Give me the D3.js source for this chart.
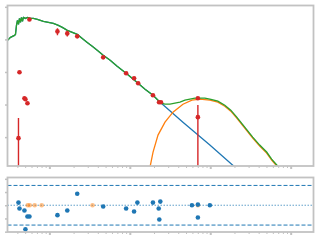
<!DOCTYPE html>
<html>
<head>
<meta charset="utf-8">
<script src="https://cdn.jsdelivr.net/npm/d3@7"></script>
<style>
  html, body { margin: 0; padding: 0; background: #fff; }
  svg { display: block; }
</style>
</head>
<body>
<div id="root"></div>
<script>
const width = 320;
const height = 240;

// photometry (micron, Jy)
const obsLam = [0.425, 0.413, 0.490, 0.504, 0.534, 0.565, 1.26, 1.67, 2.22, 4.67,
  9.0, 11.3, 12.7, 19.4, 23.1, 24.4, 70.2, 70.2];
const obsFlux = [0.977, 0.0093, 0.156, 0.146, 0.110, 40.9, 17.6, 15.3, 12.4, 2.81,
  0.91, 0.64, 0.45, 0.193, 0.118, 0.118, 0.156, 0.041];
const obsErr = [0, 0.029, 0, 0, 0, 0, 4.2, 3.0, 0, 0,
  0, 0, 0, 0, 0, 0, 0, 0.055];

// total model
const totLam = [0.302, 0.329, 0.368, 0.379, 0.390, 0.401, 0.413, 0.425, 0.437, 0.450,
  0.463, 0.476, 0.504, 0.534, 0.581, 0.633, 0.710, 0.843, 0.972, 1.121,
  1.293, 1.449, 1.672, 1.928, 2.223, 2.564, 2.958, 3.411, 3.934, 4.669,
  5.700, 6.962, 9.000, 10.68, 12.67, 15.47, 19.45, 22.42, 24.43, 27.39,
  31.58, 36.42, 42.02, 48.45, 55.89, 64.45, 74.33, 85.76, 98.9, 124.3,
  151.7, 180.0, 213.6, 268.5, 337.3, 411.8, 502.9, 580.0, 688.4];
const totFlux = [9.32, 11.51, 13.26, 14.22, 26.83, 38.16, 28.79, 43.94, 33.15, 47.13,
  35.56, 47.13, 43.94, 47.13, 43.94, 43.94, 40.95, 35.56, 33.15, 30.89,
  26.83, 23.30, 18.86, 16.38, 14.22, 10.73, 8.09, 6.11, 4.61, 3.24,
  2.277, 1.491, 0.911, 0.640, 0.450, 0.2947, 0.1932, 0.1358, 0.1099, 0.1024,
  0.1024, 0.1099, 0.1179, 0.1358, 0.1457, 0.1563, 0.1563, 0.1563, 0.1457, 0.1265,
  0.0954, 0.0671, 0.0410, 0.0202, 0.01001, 0.00569, 0.00348, 0.00212, 0.001296];

// stellar photosphere
const starLam = [0.302, 0.329, 0.368, 0.379, 0.390, 0.401, 0.413, 0.425, 0.437, 0.450,
  0.463, 0.476, 0.504, 0.534, 0.581, 0.633, 0.710, 0.843, 0.972, 1.121,
  1.293, 1.449, 1.672, 1.928, 2.223, 2.564, 2.958, 3.411, 3.934, 4.669,
  5.700, 6.962, 9.000, 10.68, 12.67, 15.47, 19.45, 23.1, 45.77, 98.9, 201.8];
const starFlux = [9.32, 11.51, 13.26, 14.22, 26.83, 38.16, 28.79, 43.94, 33.15, 47.13,
  35.56, 47.13, 43.94, 47.13, 43.94, 43.94, 40.95, 35.56, 33.15, 30.89,
  26.83, 23.30, 18.86, 16.38, 14.22, 10.73, 8.09, 6.11, 4.61, 3.24,
  2.277, 1.491, 0.911, 0.640, 0.450, 0.2947, 0.1932, 0.1265, 0.0288, 0.00569, 0.001208];

// dust
const dustLam = [17.85, 19.45, 22.42, 27.39, 34.41, 45.77, 59.19, 74.33, 98.9, 124.3,
  151.7, 180.0, 213.6, 268.5, 337.3, 411.8, 502.9, 580.0, 688.4];
const dustFlux = [0.001208, 0.00348, 0.01152, 0.0288, 0.0583, 0.1024, 0.1358, 0.1457, 0.1358, 0.1179,
  0.0890, 0.0625, 0.0382, 0.01887, 0.00933, 0.00531, 0.00324, 0.00198, 0.001208];

// residuals
const resLam = [0.413, 0.425, 0.490, 0.534, 0.565, 0.504, 1.26, 1.67, 2.22, 4.67,
  9.0, 11.3, 12.43, 19.4, 23.95, 22.88, 23.27, 59.2, 70.2, 70.2, 98.9];
const resVal = [0.40, -0.5, -0.8, -1.7, -1.7, -3.65, -1.5, -0.8, 1.75, -0.2,
  -0.5, -0.95, 0.4, 0.4, 0.55, -0.5, -2.15, 0, 0.1, -1.85, 0];
const limLam = [0.538, 0.570, 0.657, 0.803, 3.44, 70.2];
const limVal = [0, 0, 0, 0, 0, 0];

const resLevels = [-3, 3];
const xDomain = [0.3016, 1922];
const yDomain = [0.001297, 109.8];
const rDomain = [-4.05, 4.2];

const grey = "#c2c2c2";

const svg = d3.select("#root")
  .append("svg")
  .attr("width", width)
  .attr("height", height);

const main = { left: 7.5, right: 313.5, top: 5.5, bottom: 166 };
const res = { top: 177.5, bottom: 232 };

const x = d3.scaleLog().domain(xDomain).range([main.left, main.right]);
const y = d3.scaleLog().domain(yDomain).range([main.bottom, main.top]);
const yr = d3.scaleLinear().domain(rDomain).range([res.bottom, res.top]);

const defs = svg.append("defs");
defs.append("clipPath").attr("id", "clipMain")
  .append("rect")
  .attr("x", main.left).attr("y", main.top)
  .attr("width", main.right - main.left).attr("height", main.bottom - main.top);
defs.append("clipPath").attr("id", "clipRes")
  .append("rect")
  .attr("x", main.left).attr("y", res.top)
  .attr("width", main.right - main.left).attr("height", res.bottom - res.top);

const line = d3.line()
  .x((d) => x(d[0]))
  .y((d) => y(d[1]));

const plot = svg.append("g").attr("clip-path", "url(#clipMain)");

[
  [starLam, starFlux, "#1f77b4"],
  [dustLam, dustFlux, "#ff7f0e"],
  [totLam, totFlux, "#2ca02c"]
].forEach(([lam, flux, color]) => {
  plot.append("path")
    .datum(d3.zip(lam, flux))
    .attr("d", line)
    .attr("fill", "none")
    .attr("stroke", color)
    .attr("stroke-width", 1.3);
});

const obs = d3.zip(obsLam, obsFlux, obsErr);

plot.append("g")
  .selectAll("line")
  .data(obs.filter((d) => d[2] > 0))
  .join("line")
  .attr("x1", (d) => x(d[0]))
  .attr("x2", (d) => x(d[0]))
  .attr("y1", (d) => y(d[1] + d[2]))
  .attr("y2", (d) => (d[1] - d[2] > 0 ? y(d[1] - d[2]) : main.bottom + 2))
  .attr("stroke", "#d62728")
  .attr("stroke-width", 1.4);

plot.append("g")
  .selectAll("circle")
  .data(obs)
  .join("circle")
  .attr("cx", (d) => x(d[0]))
  .attr("cy", (d) => y(d[1]))
  .attr("r", 2.3)
  .attr("fill", "#d62728");

// residual panel
const rp = svg.append("g").attr("clip-path", "url(#clipRes)");

rp.append("g")
  .selectAll("line")
  .data(resLevels)
  .join("line")
  .attr("x1", main.left)
  .attr("x2", main.right)
  .attr("y1", (d) => yr(d))
  .attr("y2", (d) => yr(d))
  .attr("stroke", "#1f77b4")
  .attr("stroke-width", 1)
  .attr("stroke-dasharray", "4,2");

rp.append("line")
  .attr("x1", main.left)
  .attr("x2", main.right)
  .attr("y1", yr(0))
  .attr("y2", yr(0))
  .attr("stroke", "#1f77b4")
  .attr("stroke-opacity", 0.7)
  .attr("stroke-width", 1)
  .attr("stroke-dasharray", "1.5,1.5");

rp.append("g")
  .selectAll("circle")
  .data(d3.zip(limLam, limVal))
  .join("circle")
  .attr("cx", (d) => x(d[0]))
  .attr("cy", (d) => yr(d[1]))
  .attr("r", 2.3)
  .attr("fill", "#ff7f0e")
  .attr("fill-opacity", 0.5);

rp.append("g")
  .selectAll("circle")
  .data(d3.zip(resLam, resVal))
  .join("circle")
  .attr("cx", (d) => x(d[0]))
  .attr("cy", (d) => yr(d[1]))
  .attr("r", 2.3)
  .attr("fill", "#1f77b4");

// axes
const xTicks = x.ticks();
const xMaj = xTicks.filter((t) => Math.abs(Math.log10(t) % 1) < 1e-6);
const xMin = xTicks.filter((t) => !xMaj.includes(t));

function styleAxis(g, w) {
  g.select(".domain").remove();
  g.selectAll("line").attr("stroke", grey).attr("stroke-width", w);
}

[main.bottom, res.bottom].forEach((yy) => {
  svg.append("g")
    .attr("transform", `translate(0,${yy})`)
    .call(d3.axisBottom(x).tickValues(xMin).tickSize(2).tickFormat(""))
    .call((g) => styleAxis(g, 1));
  svg.append("g")
    .attr("transform", `translate(0,${yy})`)
    .call(d3.axisBottom(x).tickValues(xMaj).tickSize(3).tickFormat(""))
    .call((g) => styleAxis(g, 2));
});

svg.append("g")
  .attr("transform", `translate(${main.left},0)`)
  .call(d3.axisLeft(y).tickValues([100, 10, 1, 0.1, 0.01]).tickSize(2.5).tickFormat(""))
  .call((g) => styleAxis(g, 1.5));

svg.append("g")
  .attr("transform", `translate(${main.left},0)`)
  .call(d3.axisLeft(yr).tickValues([-4, -2, 0, 2, 4]).tickSize(2.5).tickFormat(""))
  .call((g) => styleAxis(g, 1.5));

// spines
[[main.top, main.bottom], [res.top, res.bottom]].forEach(([t, b]) => {
  svg.append("rect")
    .attr("x", main.left)
    .attr("y", t)
    .attr("width", main.right - main.left)
    .attr("height", b - t)
    .attr("fill", "none")
    .attr("stroke", grey)
    .attr("stroke-width", 1.8);
});
</script>
</body>
</html>
